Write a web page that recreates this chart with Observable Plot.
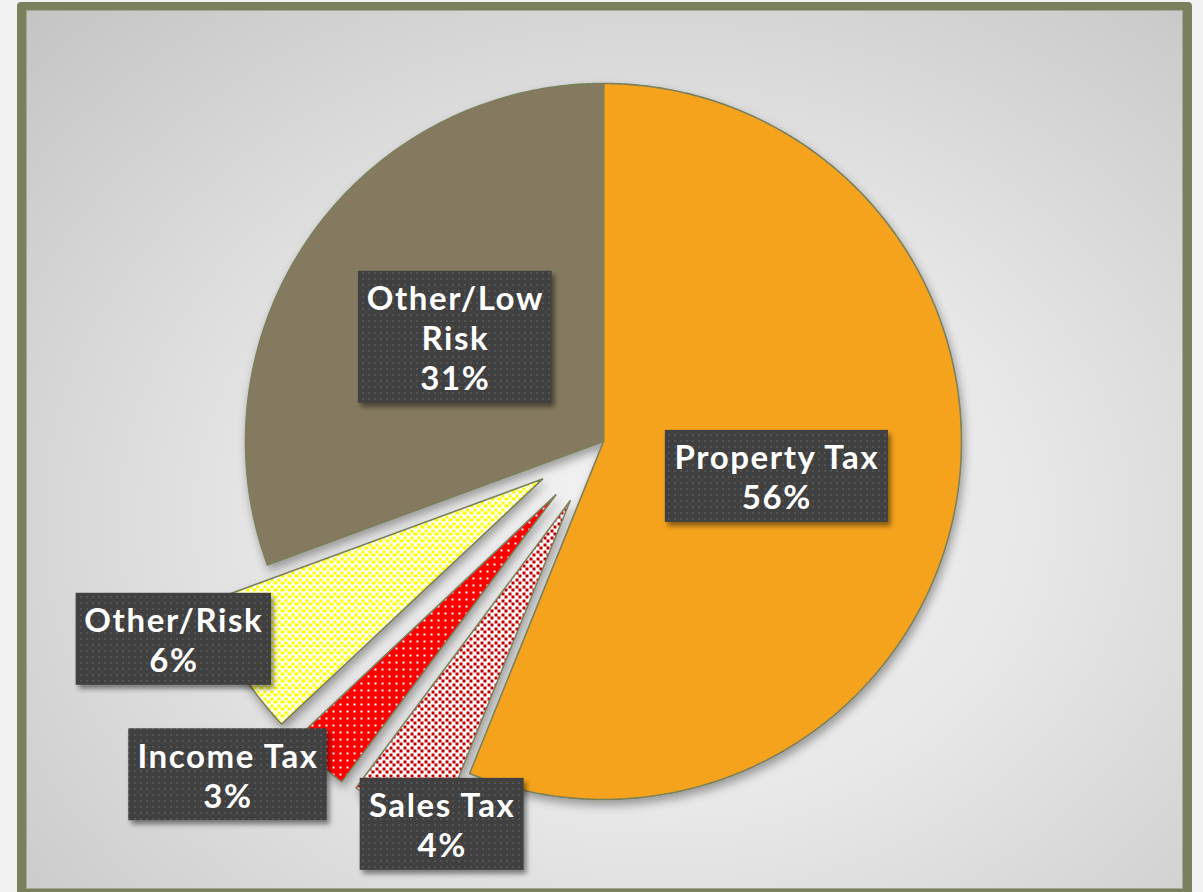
<!DOCTYPE html>
<html><head><meta charset="utf-8">
<script src="https://cdn.jsdelivr.net/npm/d3@7"></script>
<script src="https://cdn.jsdelivr.net/npm/@observablehq/plot@0.6"></script>
<style>
html,body{margin:0;padding:0;background:#f2f2f2;width:1203px;height:892px;overflow:hidden;}
#frame{position:absolute;left:17px;top:2px;width:1157px;height:879px;border:9px solid #7a7f5c;border-top-width:8px;border-radius:4px;
background:radial-gradient(ellipse farthest-corner at 55% 58%, #f3f3f3 0%, #e8e8e8 40%, #c4c4c4 100%);
box-shadow: inset 0 0 0 1px #a4a69a;}
#chart{position:absolute;left:0;top:0;}
</style></head><body><div id="frame"></div><div id="chart"></div>
<script>
// ---- data ----
const categories = ["Property Tax", "Sales Tax", "Income Tax", "Other/Risk", "Other/Low Risk"];
const values = [56.1, 4.1, 2.8, 6.4, 30.6];

// ---- layout & style ----
const W = 1203, H = 892, CX = 603, CY = 441, R = 358;
const explode = [0, 0.19, 0.2, 0.2, 0];           // fraction of radius
const labelRadius = [0.494, 0.972, 1.204, 1.123, 0.506];
const labelShift = [0.4, -7.75, 7.75, 8.2, 0.2];  // degrees from slice mid-angle
const sliceFill = ["#f5a31e", "url(#patSales)", "url(#patIncome)", "url(#patRisk)", "#857a5e"];
const FONT_SIZE = 33, LINE_H = 40, PAD_X = 9, PAD_Y = 6, LETTER_SP = 1.6, WEIGHT = "bold";
const FONT = "Lato, 'Open Sans', sans-serif";

const total = d3.sum(values);
const arcs = d3.pie().sort(null).value(d => d)(values);

const pts = [];
const labels = [];
const boxes = [];
const ctx = document.createElement("canvas").getContext("2d");
ctx.font = `${WEIGHT} ${FONT_SIZE}px ${FONT}`;
const measure = s => ctx.measureText(s).width + (s.length - 1) * LETTER_SP;

arcs.forEach((a, i) => {
  const mid = (a.startAngle + a.endAngle) / 2;
  const ox = explode[i] * Math.sin(mid), oy = explode[i] * Math.cos(mid);
  const name = categories[i];
  pts.push({name, fill: sliceFill[i], x: ox, y: oy});
  const n = Math.max(2, Math.ceil((a.endAngle - a.startAngle) / (Math.PI / 360)));
  for (let k = 0; k <= n; k++) {
    const t = a.startAngle + (a.endAngle - a.startAngle) * k / n;
    pts.push({name, fill: sliceFill[i], x: ox + Math.sin(t), y: oy + Math.cos(t)});
  }
  pts.push({name, fill: sliceFill[i], x: ox, y: oy});

  const la = mid + labelShift[i] * Math.PI / 180;
  const lx = ox + labelRadius[i] * Math.sin(la), ly = oy + labelRadius[i] * Math.cos(la);
  const nameText = name.length > 12 ? name.replace(/ (?=[^ ]*$)/, "\n") : name;
  const pct = Math.round(values[i] / total * 100) + "%";
  const text = nameText + "\n" + pct;
  const lines = text.split("\n");
  const tw = d3.max(lines, measure);
  const bw = (tw + 2 * PAD_X) / R, bh = (lines.length * LINE_H + 2 * PAD_Y) / R;
  labels.push({x: lx, y: ly, text});
  boxes.push({x1: lx - bw / 2, x2: lx + bw / 2, y1: ly - bh / 2, y2: ly + bh / 2});
});

const svg = Plot.plot({
  width: W, height: H, margin: 0,
  x: {domain: [-CX / R, (W - CX) / R], axis: null},
  y: {domain: [-(H - CY) / R, CY / R], axis: null},
  color: {type: "identity"},
  style: {background: "transparent", overflow: "visible"},
  marks: [
    Plot.line(pts, {x: "x", y: "y", z: "name", fill: "fill", stroke: "#7a7f5c", strokeWidth: 1.6, strokeLinejoin: "round"}),
    Plot.rect(boxes, {x1: "x1", x2: "x2", y1: "y1", y2: "y2", fill: "url(#patBox)"}),
    Plot.text(labels, {x: "x", y: "y", text: "text", fill: "white", fontSize: FONT_SIZE, fontWeight: WEIGHT,
      fontFamily: FONT, lineHeight: LINE_H / FONT_SIZE, textAnchor: "middle"})
  ]
});

// defs: patterns and shadow
const NS = "http://www.w3.org/2000/svg";
const defs = document.createElementNS(NS, "defs");
function el(tag, attrs, parent) {
  const e = document.createElementNS(NS, tag);
  for (const k in attrs) e.setAttribute(k, attrs[k]);
  parent.appendChild(e);
  return e;
}
function pattern(id, w, h, bg, fg, rects) {
  const p = el("pattern", {id, width: w, height: h, patternUnits: "userSpaceOnUse"}, defs);
  el("rect", {x: 0, y: 0, width: w, height: h, fill: bg}, p);
  rects.forEach(([x, y, rw, rh]) => el("rect", {x, y, width: rw, height: rh, fill: fg}, p));
}
pattern("patRisk", 7, 7, "#ffffff", "#ffff00", [[0, 0, 4, 3], [4, 4, 3, 3]]);
pattern("patSales", 7, 7, "#ffffff", "#c00000", [[0, 0, 3, 3], [4, 4, 3, 3]]);
pattern("patIncome", 7, 7, "#ff0000", "#ffffff", [[3, 3, 2, 2]]);
pattern("patBox", 6, 6, "#3f3f3f", "#535353", [[2, 2, 2, 2]]);
const f = el("filter", {id: "shadow", x: "-20%", y: "-20%", width: "140%", height: "140%"}, defs);
el("feDropShadow", {dx: 2, dy: 5, stdDeviation: 5, "flood-color": "#000", "flood-opacity": 0.35}, f);
const f2 = el("filter", {id: "shadow2", x: "-20%", y: "-20%", width: "140%", height: "140%"}, defs);
el("feDropShadow", {dx: 3, dy: 4, stdDeviation: 2.5, "flood-color": "#000", "flood-opacity": 0.45}, f2);
svg.insertBefore(defs, svg.firstChild);
svg.querySelectorAll('g[aria-label="line"]').forEach(g => g.setAttribute("filter", "url(#shadow)"));
svg.querySelectorAll('g[aria-label="rect"]').forEach(g => g.setAttribute("filter", "url(#shadow2)"));
svg.querySelectorAll('g[aria-label="text"]').forEach(g => g.style.letterSpacing = LETTER_SP + "px");

document.getElementById("chart").appendChild(svg);
</script>
</body></html>
